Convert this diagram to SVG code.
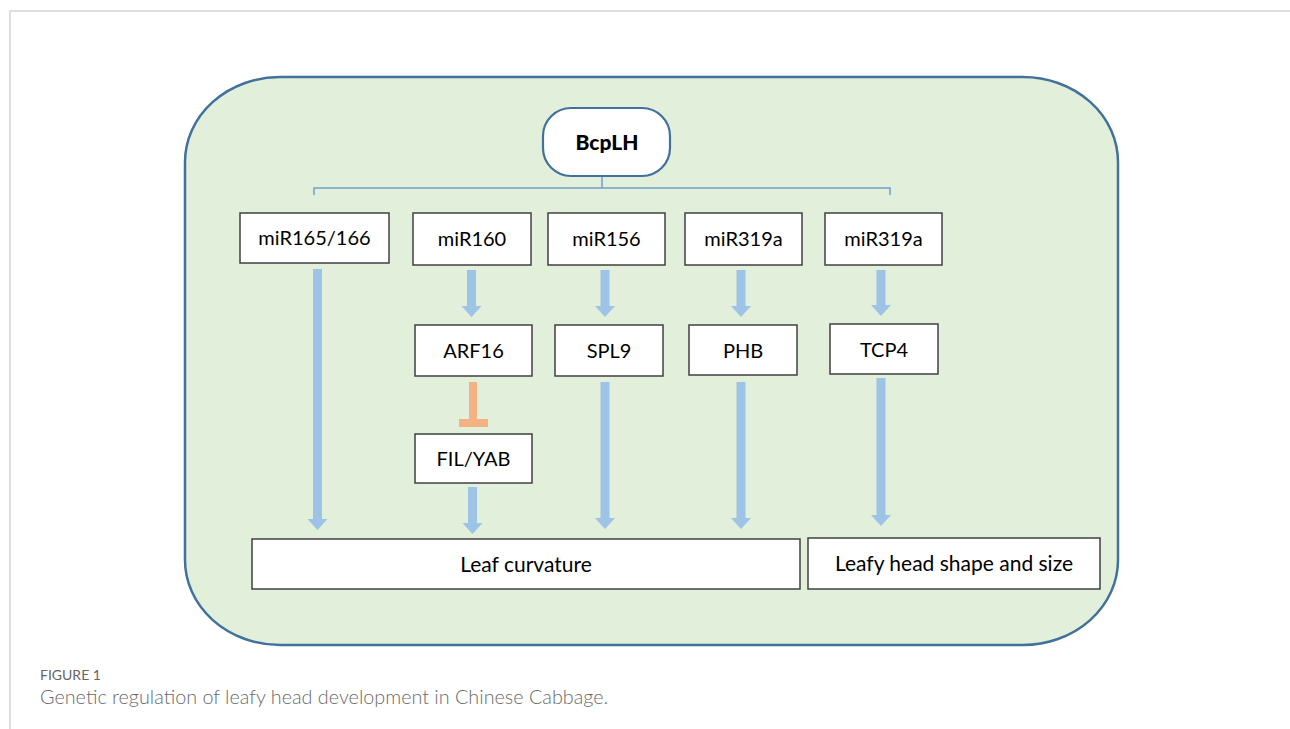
<svg xmlns="http://www.w3.org/2000/svg" width="1290" height="729" viewBox="0 0 1290 729">
<style>
.box{fill:#ffffff;stroke:#404040;stroke-width:1.5}
.lbl{font-family:Lato,"Liberation Sans",sans-serif;font-size:20px;fill:#000;text-anchor:middle}
.arr{fill:#9DC3E6}
.inh{fill:#F4B183}
</style>
<rect width="1290" height="729" fill="#ffffff"/>
<path d="M10,729 V11 H1290" fill="none" stroke="#d3d3d3" stroke-width="1.5"/>
<rect x="185" y="77" width="933" height="568" rx="95" ry="85" fill="#E2EFDA" stroke="#41719C" stroke-width="2.5"/>
<g id="connectors">
<path d="M602,176 V188 M314,195 V188 H890 V195" fill="none" stroke="#6FA0D0" stroke-width="1.5"/>
<path class="arr" d="M313,269 H322 V519 H327.5 L317.5,530 L307.5,519 H313 Z"/>
<path class="arr" d="M467,270 H476 V306 H481.5 L471.5,317 L461.5,306 H467 Z"/>
<path class="arr" d="M600.5,270 H609.5 V306 H615 L605,317 L595,306 H600.5 Z"/>
<path class="arr" d="M736.5,270 H745.5 V306 H751 L741,317 L731,306 H736.5 Z"/>
<path class="arr" d="M876.5,270 H885.5 V305 H891 L881,316 L871,305 H876.5 Z"/>
<path class="arr" d="M600.5,382 H609.5 V518 H615 L605,529 L595,518 H600.5 Z"/>
<path class="arr" d="M736.5,382 H745.5 V518 H751 L741,529 L731,518 H736.5 Z"/>
<path class="arr" d="M876.5,378 H885.5 V515 H891 L881,526 L871,515 H876.5 Z"/>
<path class="arr" d="M468,487 H477 V523 H482.5 L472.5,534 L462.5,523 H468 Z"/>
<rect class="inh" x="469" y="382" width="8" height="38"/>
<rect class="inh" x="459" y="419" width="29" height="8"/>
</g>
<g id="BcpLH">
<rect x="543" y="108" width="127" height="68" rx="28" ry="28" fill="#ffffff" stroke="#41719C" stroke-width="2.2"/>
<text x="607" y="150" font-family="Lato,'Liberation Sans',sans-serif" font-size="21" font-weight="900" text-anchor="middle">BcpLH</text>
</g>
<g id="miR165"><rect class="box" x="240" y="213" width="149" height="50"/><text class="lbl" x="314.5" y="245">miR165/166</text></g>
<g id="miR160"><rect class="box" x="413" y="213" width="118" height="52"/><text class="lbl" x="472" y="246">miR160</text></g>
<g id="miR156"><rect class="box" x="548" y="213" width="117" height="52"/><text class="lbl" x="606.5" y="246">miR156</text></g>
<g id="miR319a-1"><rect class="box" x="685" y="213" width="117" height="52"/><text class="lbl" x="743.5" y="246">miR319a</text></g>
<g id="miR319a-2"><rect class="box" x="825" y="213" width="117" height="52"/><text class="lbl" x="883.5" y="246">miR319a</text></g>
<g id="ARF16"><rect class="box" x="415" y="325" width="117" height="51"/><text class="lbl" x="473.5" y="358">ARF16</text></g>
<g id="SPL9"><rect class="box" x="555" y="325" width="108" height="51"/><text class="lbl" x="609" y="358">SPL9</text></g>
<g id="PHB"><rect class="box" x="689" y="325" width="108" height="50"/><text class="lbl" x="743" y="358">PHB</text></g>
<g id="TCP4"><rect class="box" x="830" y="324" width="108" height="50"/><text class="lbl" x="884" y="357">TCP4</text></g>
<g id="FILYAB"><rect class="box" x="415" y="434" width="117" height="49"/><text class="lbl" x="473.5" y="466">FIL/YAB</text></g>
<g id="LeafCurvature"><rect class="box" x="252" y="539" width="548" height="50"/><text class="lbl" x="526" y="572" style="font-size:21px">Leaf curvature</text></g>
<g id="LeafyHead"><rect class="box" x="808" y="538" width="292" height="51"/><text class="lbl" x="954" y="571" style="font-size:21px">Leafy head shape and size</text></g>
<text x="40" y="680" font-family="Lato,'Liberation Sans',sans-serif" font-size="14" fill="#666">FIGURE 1</text>
<text x="40" y="704" font-family="Lato,'Liberation Sans',sans-serif" font-size="19.8" font-weight="300" fill="#6a6a6a">Genetic regulation of leafy head development in Chinese Cabbage.</text>
</svg>
